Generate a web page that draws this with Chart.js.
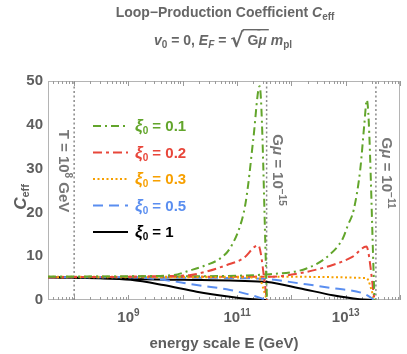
<!DOCTYPE html>
<html>
<head>
<meta charset="utf-8">
<script src="https://cdn.jsdelivr.net/npm/chart.js@4.4.1/dist/chart.umd.min.js"></script>
<style>
  html, body { margin: 0; padding: 0; background: #fff; }
  #wrap { width: 407px; height: 354px; }
</style>
</head>
<body>
<div id="wrap"><canvas id="ceffChart"></canvas></div>
<script>
// energy scale E in GeV, C_eff

// branch ending at E_F for G mu = 1e-15
var xi01_E1 = [3.3e7, 1e9, 6.6e9, 1.4e10, 2.75e10, 4.9e10, 7.4e10, 1.15e11, 1.4e11, 1.6e11, 2.0e11, 2.6e11, 3.55e11];
var xi01_C1 = [5.3, 5.4, 5.7, 6.8, 8.0, 9.5, 11.8, 17.1, 21.4, 26.3, 37, 48.8, 0];
var xi02_E1 = [3.3e7, 1e9, 6.6e9, 1.4e10, 2.75e10, 6.5e10, 1.3e11, 2.45e11, 3.55e11];
var xi02_C1 = [5.2, 5.3, 5.5, 5.7, 6.5, 8.0, 9.5, 12.5, 0];
var xi03_E1 = [3.3e7, 1e10, 2.45e11, 3.55e11];
var xi03_C1 = [5.2, 5.2, 5.1, 0];
var xi05_E1 = [3.3e7, 3e8, 1.1e9, 4.4e9, 1.8e10, 7.4e10, 2.3e11, 3.55e11];
var xi05_C1 = [5.2, 5.2, 5.2, 4.6, 3.4, 2.3, 0.75, 0];
var xi1_E1 = [3.3e7, 3e8, 1.1e9, 4.4e9, 1.8e10, 7.4e10, 1.5e11, 2.8e11, 3.55e11];
var xi1_C1 = [5.2, 5.0, 4.6, 3.4, 1.9, 0.75, 0.3, 0.05, 0];

// branch ending at E_F for G mu = 1e-11
var xi01_E2 = [3.3e7, 1e10, 4e11, 1.9e12, 5e12, 8.9e12, 1.1e13, 1.4e13, 1.85e13, 2.2e13, 2.45e13, 3.4e13];
var xi01_C2 = [5.3, 5.4, 5.9, 7.2, 10.3, 14.1, 17.1, 20.5, 29.7, 40, 45.7, 0];
var xi02_E2 = [3.3e7, 1e10, 4e11, 1.4e12, 5.75e12, 1.35e13, 2.4e13, 3.4e13];
var xi02_C2 = [5.2, 5.3, 5.3, 6.1, 8.0, 9.9, 12.2, 0];
var xi03_E2 = [3.3e7, 4e11, 2.4e13, 3.4e13];
var xi03_C2 = [5.3, 5.3, 5.0, 0];
var xi05_E2 = [3.3e7, 1e9, 1e10, 1e11, 3.6e11, 1.4e12, 5.75e12, 2.1e13, 3.4e13];
var xi05_C2 = [5.2, 5.2, 5.1, 5.0, 4.8, 3.8, 2.7, 1.5, 0];
var xi1_E2 = [3.3e7, 1.1e9, 1e10, 1e11, 3.6e11, 1.4e12, 5.75e12, 1.8e13, 3.3e13];
var xi1_C2 = [5.2, 4.8, 4.6, 4.4, 4.1, 2.7, 1.1, 0.2, 0];

// vertical reference lines: T = 1e8 GeV, E_F for G mu = 1e-15 and 1e-11
var refLineE = [1e8, 3.5e11, 3.6e13];
var refLineExp = ['8', '\u221215', '\u221211'];

var xiLabels = ['0.1', '0.2', '0.3', '0.5', '1'];
var xTickExp = [9, 11, 13];
var yTicks = [0, 10, 20, 30, 40, 50];

var GRAY = '#5e5e5e';
var FAM = "'Liberation Sans', Arial, sans-serif";
function fnt(size, italic) { return (italic ? 'italic ' : '') + 'bold ' + size + 'px ' + FAM; }

function pts(E, C) {
    return E.map(function (e, i) { return { x: e, y: C[i] }; });
}

var styles = [
    { color: '#62a52b', dash: [8, 4, 2, 4], width: 2 },
    { color: '#e8463a', dash: [9, 4, 3, 4], width: 2 },
    { color: '#f7a000', dash: [2, 2.5], width: 2 },
    { color: '#5a8ef0', dash: [10, 6], width: 2 },
    { color: '#000000', dash: [], width: 2 }
];

function curve(E, C, s, legend) {
    return {
        data: pts(E, C),
        showLine: true,
        borderColor: s.color,
        borderDash: s.dash,
        borderWidth: s.width,
        pointRadius: 0,
        cubicInterpolationMode: 'monotone',
        legendText: legend
    };
}

function refLine(e) {
    return {
        data: [{ x: e, y: 0 }, { x: e, y: 50 }],
        showLine: true,
        borderColor: '#8a8a8a',
        borderDash: [2, 2.5],
        borderWidth: 1.5,
        pointRadius: 0
    };
}

var datasets = [
    curve(xi01_E1, xi01_C1, styles[0], xiLabels[0]),
    curve(xi02_E1, xi02_C1, styles[1], xiLabels[1]),
    curve(xi03_E1, xi03_C1, styles[2], xiLabels[2]),
    curve(xi05_E1, xi05_C1, styles[3], xiLabels[3]),
    curve(xi1_E1, xi1_C1, styles[4], xiLabels[4]),
    curve(xi01_E2, xi01_C2, styles[0]),
    curve(xi02_E2, xi02_C2, styles[1]),
    curve(xi03_E2, xi03_C2, styles[2]),
    curve(xi05_E2, xi05_C2, styles[3]),
    curve(xi1_E2, xi1_C2, styles[4]),
    refLine(refLineE[0]),
    refLine(refLineE[1]),
    refLine(refLineE[2])
];

// draws a run of text pieces (for sub/superscripts)
function drawRuns(ctx, x, y, parts, align) {
    var w = 0;
    parts.forEach(function (p) { ctx.font = p.f; w += ctx.measureText(p.t).width; });
    var cx = align === 'center' ? x - w / 2 : x;
    parts.forEach(function (p) {
        ctx.font = p.f;
        if (p.c) ctx.fillStyle = p.c;
        ctx.fillText(p.t, cx, y + (p.dy || 0));
        var pw = ctx.measureText(p.t).width;
        if (p.over) ctx.fillRect(cx - 1, y - 16, pw + 3, 1.4);
        cx += pw;
    });
    return w;
}

var decor = {
    id: 'decor',
    beforeDatasetsDraw: function (chart) {
        var ctx = chart.ctx, a = chart.chartArea, xs = chart.scales.x;
        ctx.save();
        ctx.strokeStyle = '#b4b4b4';
        ctx.lineWidth = 1;
        ctx.strokeRect(a.left + 0.5, a.top + 0.5, a.right - a.left - 1, a.bottom - a.top - 1);
        ctx.strokeStyle = '#9a9a9a';
        ctx.beginPath();
        for (var e = 7; e <= 14; e++) {
            for (var m = 1; m <= 9; m++) {
                var v = m * Math.pow(10, e);
                if (v < xs.min || v > xs.max) continue;
                var px = Math.round(xs.getPixelForValue(v)) + 0.5;
                var len = m === 1 ? 5 : 3;
                ctx.moveTo(px, a.bottom);
                ctx.lineTo(px, a.bottom - len);
                ctx.moveTo(px, a.top);
                ctx.lineTo(px, a.top + len);
            }
        }
        ctx.stroke();
        ctx.restore();
    },
    afterDraw: function (chart) {
        var ctx = chart.ctx, a = chart.chartArea, xs = chart.scales.x;
        ctx.save();
        ctx.textBaseline = 'alphabetic';

        // title and subtitle
        ctx.fillStyle = '#676767';
        drawRuns(ctx, 225, 17, [
            { t: 'Loop\u2212Production Coefficient ', f: fnt(14) },
            { t: 'C', f: fnt(14, true) },
            { t: 'eff', f: fnt(10), dy: 3 }
        ], 'center');
        drawRuns(ctx, 223, 45, [
            { t: 'v', f: fnt(14, true) },
            { t: '0', f: fnt(10), dy: 3 },
            { t: ' = 0, ', f: fnt(14) },
            { t: 'E', f: fnt(14, true) },
            { t: 'F', f: fnt(10, true), dy: 3 },
            { t: ' = ', f: fnt(14) },
            { t: '\u221A', f: "bold 20px 'DejaVu Sans'", dy: 2 },
            { t: ' G', f: fnt(14), over: true },
            { t: '\u03BC', f: fnt(14, true), over: true },
            { t: ' m', f: fnt(14, true) },
            { t: 'pl', f: fnt(10), dy: 3 }
        ], 'center');

        // y axis title
        ctx.fillStyle = GRAY;
        ctx.save();
        ctx.translate(26, 197);
        ctx.rotate(-Math.PI / 2);
        drawRuns(ctx, 0, 0, [
            { t: 'C', f: fnt(17, true) },
            { t: 'eff', f: fnt(11), dy: 3 }
        ], 'center');
        ctx.restore();

        // x tick labels and title
        xTickExp.forEach(function (e) {
            var px = xs.getPixelForValue(Math.pow(10, e));
            drawRuns(ctx, px, 322, [
                { t: '10', f: fnt(15) },
                { t: String(e), f: fnt(10), dy: -6 }
            ], 'center');
        });
        drawRuns(ctx, (a.left + a.right) / 2, 348, [{ t: 'energy scale E (GeV)', f: fnt(15) }], 'center');

        // labels on the reference lines
        ctx.fillStyle = '#777777';
        var refParts = [
            [{ t: 'T = 10', f: fnt(15) }, { t: refLineExp[0], f: fnt(10), dy: -6 }, { t: ' GeV', f: fnt(15) }],
            [{ t: 'G', f: fnt(15) }, { t: '\u03BC', f: fnt(15, true) }, { t: ' = 10', f: fnt(15) }, { t: refLineExp[1], f: fnt(10), dy: -6 }],
            [{ t: 'G', f: fnt(15) }, { t: '\u03BC', f: fnt(15, true) }, { t: ' = 10', f: fnt(15) }, { t: refLineExp[2], f: fnt(10), dy: -6 }]
        ];
        var refOffset = [-10, 11.5, 11];
        var refMid = [171, 170, 173];
        refLineE.forEach(function (e, i) {
            var px = xs.getPixelForValue(e) + refOffset[i];
            ctx.save();
            ctx.translate(px, refMid[i]);
            ctx.rotate(Math.PI / 2);
            drawRuns(ctx, 0, 5, refParts[i], 'center');
            ctx.restore();
        });

        // legend inside the plot
        var rowY = 126;
        chart.data.datasets.forEach(function (ds) {
            if (!ds.legendText) return;
            ctx.save();
            ctx.strokeStyle = ds.borderColor;
            ctx.lineWidth = ds.borderWidth;
            ctx.setLineDash(ds.borderDash);
            ctx.beginPath();
            ctx.moveTo(93, rowY);
            ctx.lineTo(128, rowY);
            ctx.stroke();
            ctx.restore();
            ctx.fillStyle = ds.borderColor;
            drawRuns(ctx, 135, rowY + 5, [
                { t: '\u03BE', f: fnt(17, true) },
                { t: '0', f: fnt(10), dy: 3 },
                { t: ' = ' + ds.legendText, f: fnt(15) }
            ], 'left');
            rowY += 26.5;
        });
        ctx.restore();
    }
};

var ctx = document.getElementById('ceffChart').getContext('2d');
var ceffChart = new Chart(ctx, {
    type: 'scatter',
    data: { datasets: datasets },
    options: {
        responsive: true,
        maintainAspectRatio: false,
        animation: false,
        devicePixelRatio: 1,
        layout: { padding: { top: 81, right: 7, left: 0, bottom: 0 } },
        plugins: {
            legend: { display: false },
            tooltip: { enabled: false },
            title: { display: false }
        },
        scales: {
            x: {
                type: 'logarithmic',
                min: 3.3e7,
                max: 1e14,
                ticks: { display: false },
                grid: { display: false, drawTicks: false },
                border: { display: false },
                afterFit: function (scale) { scale.height = 54; }
            },
            y: {
                min: 0,
                max: 50,
                afterBuildTicks: function (scale) {
                    scale.ticks = yTicks.map(function (v) { return { value: v }; });
                },
                ticks: { color: GRAY, font: { family: FAM, size: 15, weight: 'bold' }, padding: 5 },
                grid: { display: false, drawTicks: false },
                border: { display: false },
                afterFit: function (scale) { scale.width = 48; }
            }
        }
    },
    plugins: [decor]
});
</script>
</body>
</html>
